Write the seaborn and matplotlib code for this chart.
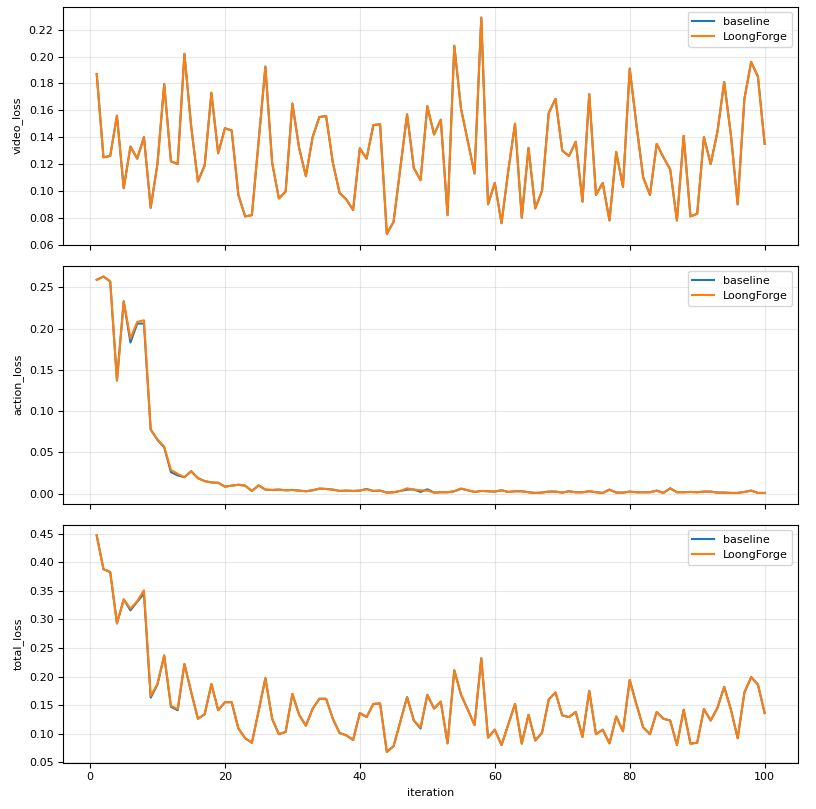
import matplotlib
matplotlib.use("Agg")
import matplotlib.pyplot as plt
from matplotlib.ticker import MultipleLocator
import seaborn as sns

plt.rcParams["font.size"] = 8
plt.rcParams["font.family"] = ["DejaVu Sans"]

iterations = list(range(1, 101))

video_loongforge = [
    0.187, 0.125, 0.126, 0.156, 0.102, 0.133, 0.124, 0.140, 0.0875, 0.120,
    0.1795, 0.122, 0.120, 0.202, 0.148, 0.107, 0.119, 0.173, 0.128, 0.1466,
    0.145, 0.097, 0.081, 0.082, 0.137, 0.1925, 0.121, 0.0944, 0.0995, 0.165,
    0.132, 0.111, 0.140, 0.155, 0.1557, 0.121, 0.0985, 0.0936, 0.0858, 0.1317,
    0.124, 0.149, 0.1496, 0.068, 0.077, 0.117, 0.157, 0.117, 0.108, 0.163,
    0.142, 0.153, 0.082, 0.208, 0.161, 0.137, 0.113, 0.229, 0.090, 0.106,
    0.076, 0.115, 0.150, 0.080, 0.132, 0.087, 0.100, 0.158, 0.1685, 0.130,
    0.126, 0.1366, 0.092, 0.172, 0.097, 0.106, 0.078, 0.129, 0.103, 0.191,
    0.149, 0.110, 0.097, 0.135, 0.125, 0.116, 0.078, 0.141, 0.081, 0.083,
    0.140, 0.120, 0.144, 0.181, 0.1415, 0.090, 0.1685, 0.196, 0.185, 0.135,
]
video_baseline = [
    0.187, 0.125, 0.126, 0.156, 0.102, 0.133, 0.124, 0.140, 0.0875, 0.120,
    0.1795, 0.122, 0.120, 0.202, 0.148, 0.107, 0.119, 0.173, 0.128, 0.1466,
    0.145, 0.097, 0.081, 0.082, 0.137, 0.1925, 0.121, 0.0944, 0.0995, 0.165,
    0.132, 0.111, 0.140, 0.155, 0.1557, 0.121, 0.0985, 0.0936, 0.0858, 0.1317,
    0.124, 0.149, 0.1496, 0.068, 0.077, 0.117, 0.157, 0.117, 0.108, 0.163,
    0.142, 0.153, 0.082, 0.208, 0.161, 0.137, 0.113, 0.229, 0.090, 0.106,
    0.076, 0.115, 0.150, 0.080, 0.132, 0.087, 0.100, 0.158, 0.1685, 0.130,
    0.126, 0.1366, 0.092, 0.172, 0.097, 0.106, 0.078, 0.129, 0.103, 0.191,
    0.149, 0.110, 0.097, 0.135, 0.125, 0.116, 0.078, 0.141, 0.081, 0.083,
    0.140, 0.120, 0.144, 0.181, 0.1415, 0.090, 0.1685, 0.196, 0.185, 0.135,
]

action_loongforge = [
    0.259, 0.263, 0.257, 0.137, 0.233, 0.188, 0.208, 0.210, 0.0776, 0.0657,
    0.0569, 0.0287, 0.0239, 0.0199, 0.0271, 0.0187, 0.0151, 0.0135, 0.0131, 0.0084,
    0.0096, 0.0107, 0.0096, 0.0032, 0.0100, 0.0048, 0.0044, 0.0048, 0.0040, 0.0044,
    0.0036, 0.0028, 0.0040, 0.0060, 0.0056, 0.0048, 0.0032, 0.0036, 0.0032, 0.0036,
    0.0052, 0.0032, 0.0036, 0.0012, 0.0016, 0.0032, 0.0064, 0.0048, 0.0040, 0.0036,
    0.0012, 0.0016, 0.0016, 0.0028, 0.0060, 0.0040, 0.0020, 0.0032, 0.0028, 0.0024,
    0.0040, 0.0020, 0.0028, 0.0028, 0.0016, 0.0008, 0.0012, 0.0024, 0.0024, 0.0012,
    0.0028, 0.0016, 0.0016, 0.0028, 0.0016, 0.0008, 0.0048, 0.0012, 0.0012, 0.0024,
    0.0016, 0.0016, 0.0016, 0.0036, 0.0008, 0.0064, 0.0016, 0.0016, 0.0020, 0.0016,
    0.0024, 0.0024, 0.0012, 0.0012, 0.0008, 0.0008, 0.0020, 0.0036, 0.0008, 0.0008,
]
action_baseline = [
    0.259, 0.263, 0.257, 0.137, 0.233, 0.183, 0.206, 0.206, 0.0776, 0.0650,
    0.0560, 0.0260, 0.0220, 0.0199, 0.0271, 0.0187, 0.0151, 0.0135, 0.0131, 0.0084,
    0.0096, 0.0107, 0.0096, 0.0032, 0.0100, 0.0048, 0.0044, 0.0048, 0.0040, 0.0044,
    0.0036, 0.0028, 0.0040, 0.0060, 0.0056, 0.0048, 0.0032, 0.0036, 0.0032, 0.0036,
    0.0056, 0.0032, 0.0036, 0.0012, 0.0016, 0.0032, 0.0048, 0.0050, 0.0020, 0.0052,
    0.0012, 0.0016, 0.0016, 0.0028, 0.0060, 0.0040, 0.0020, 0.0032, 0.0028, 0.0024,
    0.0040, 0.0020, 0.0028, 0.0028, 0.0016, 0.0008, 0.0012, 0.0024, 0.0024, 0.0012,
    0.0028, 0.0016, 0.0016, 0.0028, 0.0016, 0.0008, 0.0048, 0.0012, 0.0012, 0.0024,
    0.0016, 0.0016, 0.0016, 0.0036, 0.0008, 0.0064, 0.0016, 0.0016, 0.0020, 0.0016,
    0.0024, 0.0024, 0.0012, 0.0012, 0.0008, 0.0008, 0.0020, 0.0036, 0.0008, 0.0008,
]

total_loongforge = [
    0.447, 0.388, 0.383, 0.293, 0.335, 0.319, 0.332, 0.351, 0.166, 0.187,
    0.237, 0.149, 0.143, 0.222, 0.173, 0.126, 0.134, 0.187, 0.141, 0.155,
    0.155, 0.109, 0.092, 0.084, 0.140, 0.197, 0.126, 0.099, 0.103, 0.1695,
    0.133, 0.114, 0.1436, 0.161, 0.161, 0.126, 0.101, 0.097, 0.089, 0.136,
    0.129, 0.152, 0.153, 0.068, 0.078, 0.121, 0.164, 0.123, 0.111, 0.168,
    0.144, 0.156, 0.083, 0.211, 0.168, 0.142, 0.115, 0.232, 0.093, 0.107,
    0.080, 0.116, 0.152, 0.0825, 0.133, 0.088, 0.1015, 0.160, 0.172, 0.132,
    0.129, 0.138, 0.094, 0.175, 0.099, 0.107, 0.083, 0.130, 0.104, 0.194,
    0.151, 0.111, 0.099, 0.138, 0.126, 0.123, 0.080, 0.142, 0.0825, 0.084,
    0.143, 0.123, 0.145, 0.182, 0.142, 0.092, 0.172, 0.199, 0.186, 0.136,
]
total_baseline = [
    0.447, 0.388, 0.383, 0.293, 0.335, 0.316, 0.331, 0.345, 0.163, 0.186,
    0.237, 0.147, 0.141, 0.222, 0.173, 0.126, 0.134, 0.187, 0.141, 0.155,
    0.155, 0.109, 0.092, 0.084, 0.140, 0.197, 0.126, 0.099, 0.103, 0.1695,
    0.133, 0.114, 0.1436, 0.161, 0.161, 0.126, 0.101, 0.097, 0.089, 0.136,
    0.129, 0.152, 0.153, 0.068, 0.078, 0.121, 0.164, 0.123, 0.109, 0.168,
    0.144, 0.156, 0.083, 0.211, 0.168, 0.142, 0.115, 0.232, 0.093, 0.107,
    0.080, 0.116, 0.152, 0.0825, 0.133, 0.088, 0.1015, 0.160, 0.172, 0.132,
    0.129, 0.138, 0.094, 0.175, 0.099, 0.107, 0.083, 0.130, 0.104, 0.194,
    0.151, 0.111, 0.099, 0.138, 0.126, 0.123, 0.080, 0.142, 0.0825, 0.084,
    0.143, 0.123, 0.145, 0.182, 0.142, 0.092, 0.172, 0.199, 0.186, 0.136,
]

panels = [
    ("video_loss", video_baseline, video_loongforge, 0.02),
    ("action_loss", action_baseline, action_loongforge, 0.05),
    ("total_loss", total_baseline, total_loongforge, 0.05),
]
colors = {"baseline": "#1f77b4", "LoongForge": "#ff7f0e"}

fig, axes = plt.subplots(3, 1, figsize=(8.16, 8.09), dpi=100, sharex=True)
fig.subplots_adjust(left=0.0776, right=0.978, top=0.9917, bottom=0.0572, hspace=0.088)

for ax, (name, base, lf, step) in zip(axes, panels):
    sns.lineplot(x=iterations, y=base, ax=ax, label="baseline",
                 color=colors["baseline"], linewidth=1.5)
    sns.lineplot(x=iterations, y=lf, ax=ax, label="LoongForge",
                 color=colors["LoongForge"], linewidth=1.5)
    ax.set_ylabel(name)
    ax.yaxis.set_major_locator(MultipleLocator(step))
    ax.grid(True, alpha=0.3)
    ax.legend(loc="upper right")
    for s in ax.spines.values():
        s.set_color("black")

axes[-1].set_xlabel("iteration")
axes[-1].xaxis.set_major_locator(MultipleLocator(20))

fig.savefig("out.png", dpi=100)
